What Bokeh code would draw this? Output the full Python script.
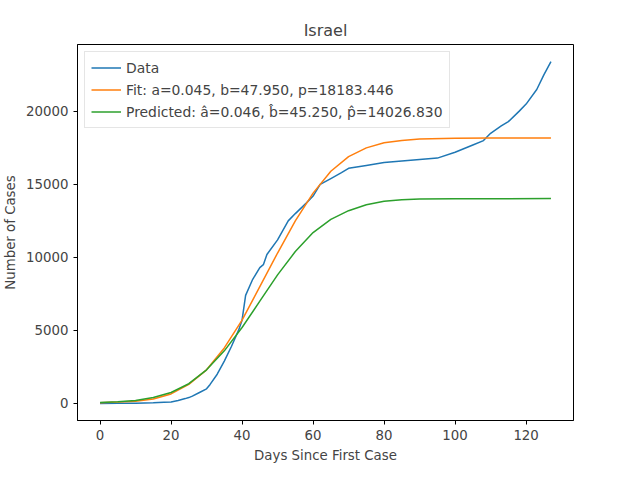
from bokeh.plotting import figure
from bokeh.embed import file_html
from bokeh.resources import INLINE
from bokeh.models import Range1d, FixedTicker, Legend, LegendItem

data_x = [0,5,10,15,18,20,22,24,25,26,28,30,31,33,35,37,39,40,41,43,45,46,47,50,53,55,58,60,62,65,68,70,75,80,85,90,95,100,105,108,110,113,115,118,120,123,125,127]
data_y = [0,5,15,40,80,100,200,330,400,500,750,1000,1300,2000,2900,3900,5000,5700,7400,8500,9300,9500,10200,11200,12500,13000,13700,14200,15000,15400,15800,16100,16300,16500,16600,16700,16800,17200,17700,18000,18500,19000,19300,20000,20500,21500,22500,23400]

fit_x = [0,5,10,15,20,25,30,35,40,45,50,55,60,65,70,75,80,85,90,100,110,127]
fit_y = [50,90,150,300,650,1300,2300,3800,5700,8000,10300,12500,14400,15900,16900,17500,17850,18000,18100,18160,18180,18183]

pred_x = [0,5,10,15,20,25,30,35,40,45,50,55,60,65,70,75,80,85,90,100,127]
pred_y = [60,110,200,400,750,1350,2300,3600,5200,7000,8800,10400,11700,12600,13200,13600,13850,13950,14000,14020,14027]

p = figure(frame_width=496, frame_height=376, output_backend="svg", toolbar_location=None,
           title="Israel", x_range=Range1d(-6.35, 133.35), y_range=Range1d(-1170, 24580),
           min_border_left=72, min_border_right=48, min_border_top=44, min_border_bottom=40)
p.title.align = "center"
p.title.text_font = "DejaVu Sans"
p.title.text_font_size = "12pt"
p.title.text_font_style = "normal"
p.xgrid.visible = False
p.ygrid.visible = False
p.outline_line_color = "black"
p.xaxis.ticker = FixedTicker(ticks=[0,20,40,60,80,100,120])
p.yaxis.ticker = FixedTicker(ticks=[0,5000,10000,15000,20000])
p.xaxis.axis_label = "Days Since First Case"
p.yaxis.axis_label = "Number of Cases"
for ax in (p.xaxis[0], p.yaxis[0]):
    ax.axis_label_text_font = "DejaVu Sans"
    ax.axis_label_text_font_style = "normal"
    ax.axis_label_text_font_size = "10pt"
    ax.major_label_text_font = "DejaVu Sans"
    ax.major_label_text_font_size = "10pt"
    ax.minor_tick_line_color = None
    ax.major_tick_in = 0
    ax.major_tick_out = 4
p.yaxis.major_label_orientation = "horizontal"

r1 = p.line(data_x, data_y, line_color="#1f77b4", line_width=1.5)
r2 = p.line(fit_x, fit_y, line_color="#ff7f0e", line_width=1.5)
r3 = p.line(pred_x, pred_y, line_color="#2ca02c", line_width=1.5)
leg = Legend(items=[LegendItem(label="Data", renderers=[r1]),
                    LegendItem(label="Fit: a=0.045, b=47.950, p=18183.446", renderers=[r2]),
                    LegendItem(label="Predicted: \u00e2=0.046, b\u0302=45.250, p\u0302=14026.830", renderers=[r3])],
             location="top_left", label_text_font="DejaVu Sans", label_text_font_size="13.9px",
             spacing=3, padding=6, glyph_width=30, glyph_height=19, label_height=19,
             border_line_color="#cccccc", margin=7)
p.add_layout(leg)
open("out.html", "w").write(file_html(p, INLINE))
